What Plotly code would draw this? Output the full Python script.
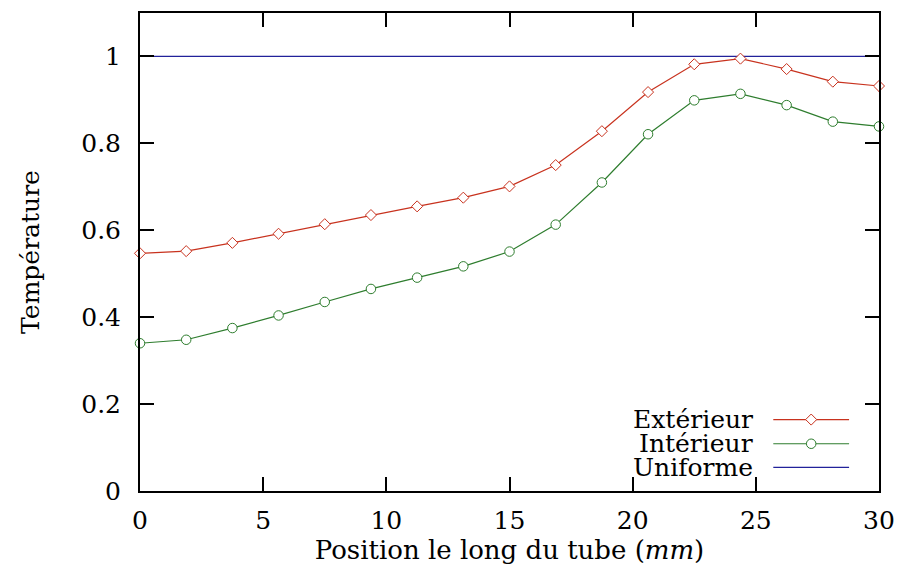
import plotly.graph_objects as go

# Data
n_points = 17
x_pos = [i * 30 / 16 for i in range(n_points)]
exterieur = [0.547, 0.552, 0.571, 0.592, 0.614, 0.635, 0.655, 0.675, 0.701,
             0.750, 0.828, 0.918, 0.982, 0.995, 0.971, 0.942, 0.932]
interieur = [0.340, 0.348, 0.375, 0.404, 0.435, 0.465, 0.491, 0.517, 0.551,
             0.613, 0.710, 0.821, 0.899, 0.914, 0.888, 0.850, 0.839]
uniforme = [1.0] * n_points

names = ["Extérieur", "Intérieur", "Uniforme"]
x_ticks = [0, 5, 10, 15, 20, 25, 30]
y_ticks = [0, 0.2, 0.4, 0.6, 0.8, 1]
y_tick_text = ["0", "0.2", "0.4", "0.6", "0.8", "1"]

RED = "#c8321e"
GREEN = "#2e7d2e"
BLUE = "#22229a"
FONT = "DejaVu Serif"
FS = 25

W, H = 906, 569
L, R, T, B = 140, 25, 11, 77.5

DIA = dict(symbol="diamond", size=8.5, color="white", line=dict(width=1, color=RED))
CIR = dict(symbol="circle", size=9.5, color="white", line=dict(width=1, color=GREEN))

fig = go.Figure()
fig.add_trace(go.Scatter(x=x_pos, y=uniforme, mode="lines", name=names[2],
                         line=dict(color=BLUE, width=1.2), showlegend=False))
fig.add_trace(go.Scatter(x=x_pos, y=interieur, mode="lines+markers", name=names[1],
                         line=dict(color=GREEN, width=1.2), marker=CIR,
                         showlegend=False, cliponaxis=False))
fig.add_trace(go.Scatter(x=x_pos, y=exterieur, mode="lines+markers", name=names[0],
                         line=dict(color=RED, width=1.2), marker=DIA,
                         showlegend=False, cliponaxis=False))

# Custom legend (keys on the right of the text), drawn on a pixel overlay axis
leg_y = [419.7, 444.0, 467.7]
leg_cols = [RED, GREEN, BLUE]
leg_marks = [DIA, CIR, None]
for name, yy, col, mk in zip(names, leg_y, leg_cols, leg_marks):
    fig.add_trace(go.Scatter(x=[775, 851], y=[yy, yy], mode="lines",
                             line=dict(color=col, width=1.2), xaxis="x2", yaxis="y2",
                             showlegend=False, hoverinfo="skip"))
    if mk:
        fig.add_trace(go.Scatter(x=[813], y=[yy], mode="markers", marker=mk,
                                 xaxis="x2", yaxis="y2", showlegend=False,
                                 hoverinfo="skip"))
    fig.add_annotation(x=757, y=yy, xref="x2", yref="y2", text=name,
                       showarrow=False, xanchor="right", yanchor="middle",
                       font=dict(family=FONT, size=FS, color="black"))

axis_common = dict(showline=True, linecolor="black", linewidth=2, mirror="ticks",
                   ticks="inside", ticklen=14, tickwidth=1.5, tickcolor="black",
                   showgrid=False, zeroline=False,
                   tickfont=dict(family=FONT, size=FS, color="black"))

fig.update_layout(
    width=W, height=H,
    margin=dict(l=L, r=R, t=T, b=B, pad=0),
    plot_bgcolor="white", paper_bgcolor="white",
    showlegend=False,
    xaxis=dict(range=[0, 30], tickvals=x_ticks, ticklabelstandoff=6,
               title=dict(text="Position le long du tube (<i>mm</i>)",
                          font=dict(family=FONT, size=FS + 1, color="black"), standoff=4),
               **axis_common),
    yaxis=dict(range=[0, 1.1], tickvals=y_ticks, ticktext=y_tick_text,
               ticklabelstandoff=12,
               title=dict(text="Température",
                          font=dict(family=FONT, size=FS, color="black"), standoff=34),
               **axis_common),
    xaxis2=dict(overlaying="x", range=[L, W - R], visible=False, fixedrange=True),
    yaxis2=dict(overlaying="y", range=[H - B, T], visible=False, fixedrange=True),
)

fig.write_html("out.html", config={"displayModeBar": False},
               post_script="document.body.style.margin='0';document.body.style.padding='0';")
